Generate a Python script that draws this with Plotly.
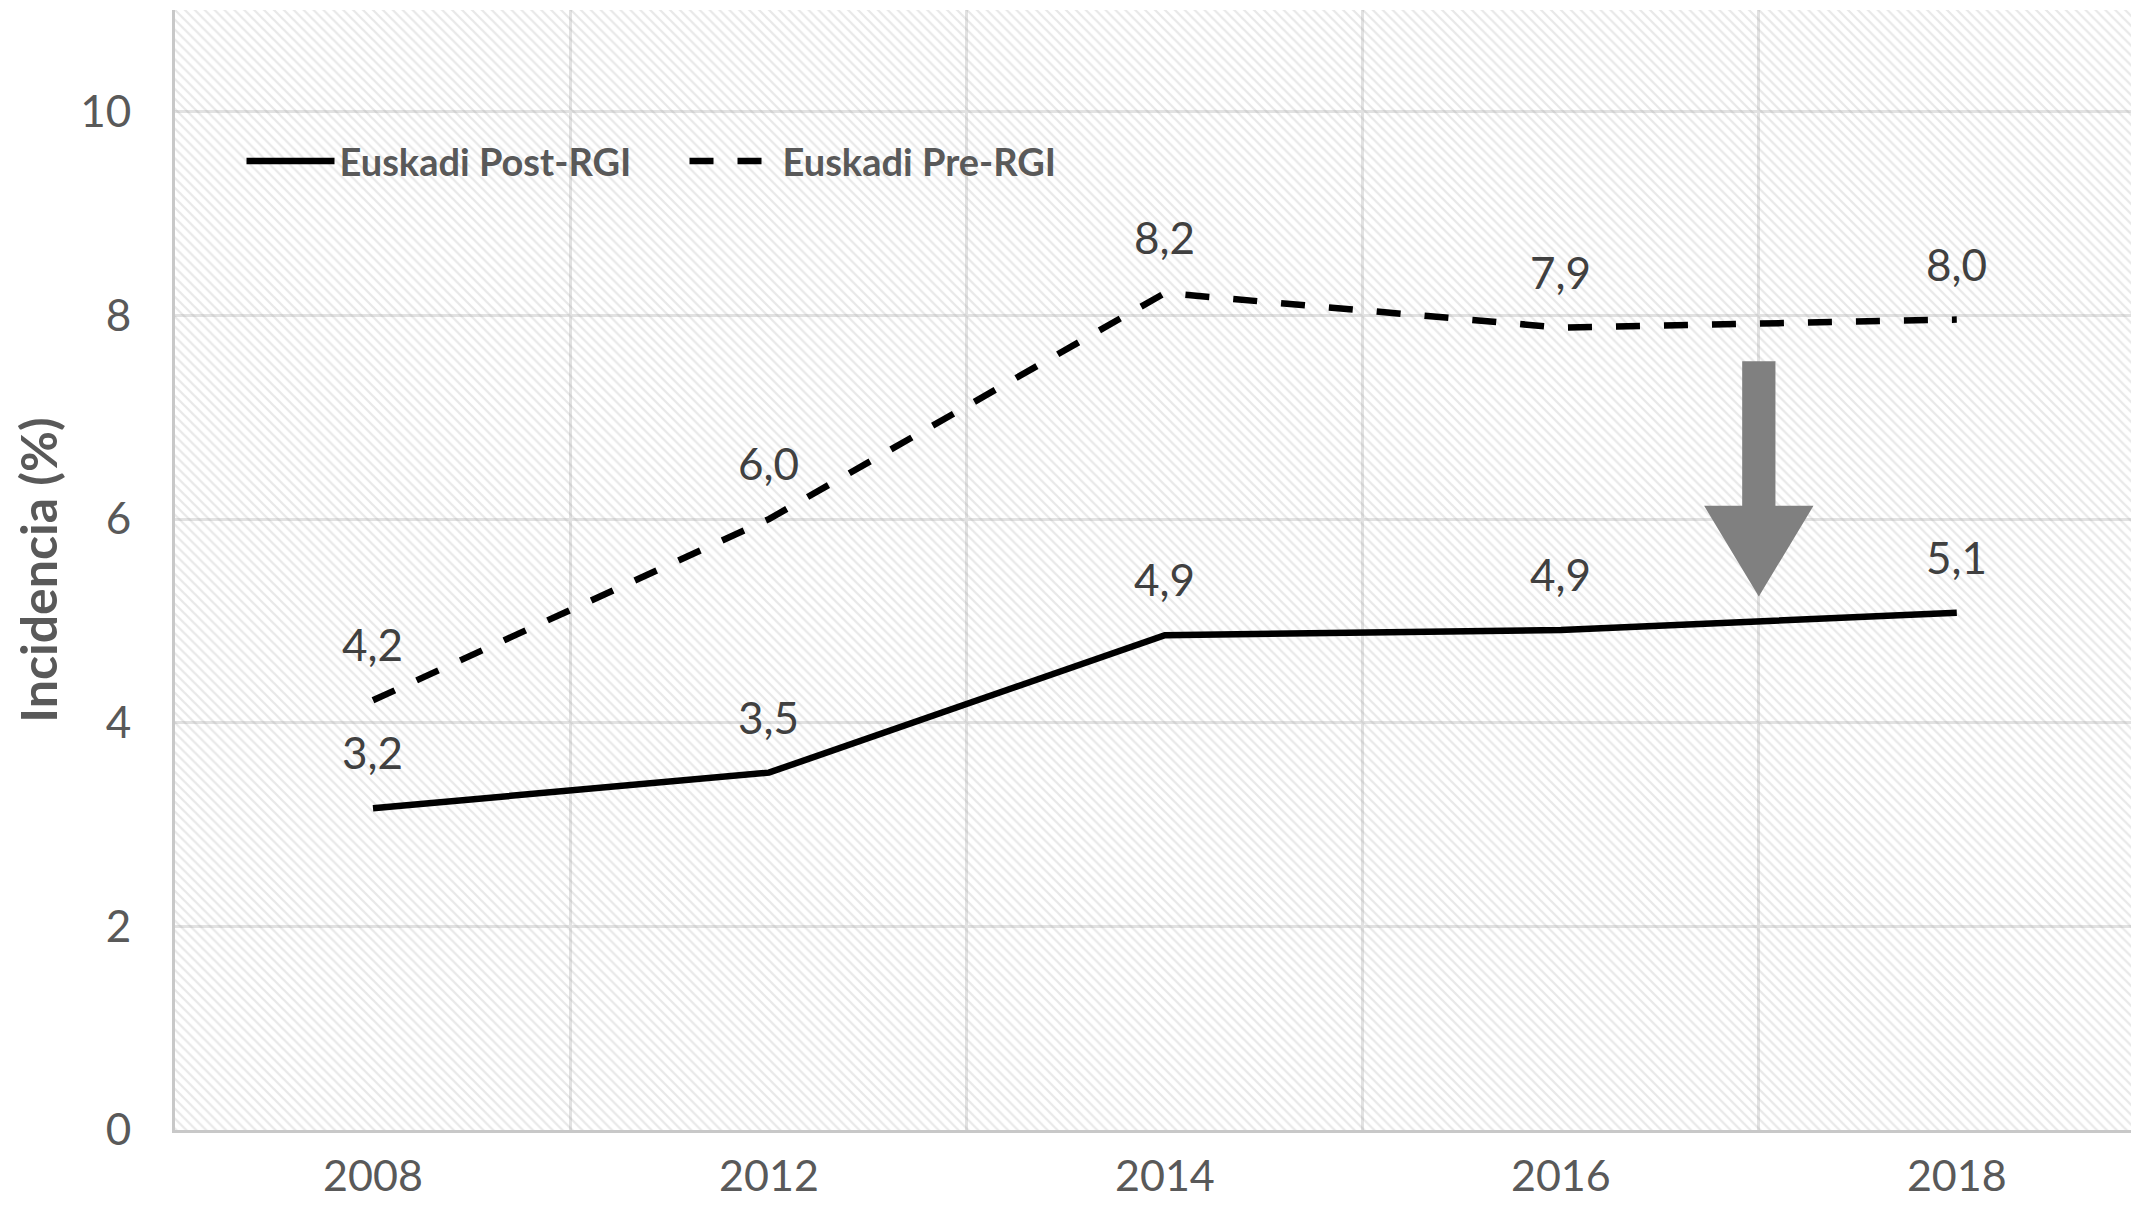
import plotly.graph_objects as go

# ---- data ----
years = ["2008", "2012", "2014", "2016", "2018"]
post_rgi = [3.16, 3.51, 4.86, 4.91, 5.08]
pre_rgi = [4.22, 6.00, 8.22, 7.88, 7.96]
series_names = ["Euskadi Post-RGI", "Euskadi Pre-RGI"]
y_ticks = [0, 2, 4, 6, 8, 10]
y_title = "Incidencia (%)"

# arrow annotation (category index / value units)
arrow_x = 3.5
arrow_top, arrow_neck, arrow_tip = 7.55, 6.13, 5.24
arrow_shaft_half, arrow_head_half = 0.042, 0.138

FONT = "Lato"
TXT = "#595959"

fig = go.Figure()

# hatched plot background on hidden base axes
fig.add_trace(go.Scatter(
    x=[0, 1, 1, 0, 0], y=[0, 0, 1, 1, 0], xaxis="x", yaxis="y",
    mode="lines", line=dict(width=0), fill="toself",
    fillcolor="rgba(0,0,0,0)",
    fillpattern=dict(shape="\\", fgcolor="rgba(150,150,150,0.45)",
                     bgcolor="rgba(255,255,255,0)", size=7, solidity=0.32),
    hoverinfo="skip", showlegend=False))

fig.add_trace(go.Scatter(
    x=years, y=post_rgi, name=series_names[0], xaxis="x2", yaxis="y2",
    mode="lines", line=dict(color="black", width=6.5)))
fig.add_trace(go.Scatter(
    x=years, y=pre_rgi, name=series_names[1], xaxis="x2", yaxis="y2",
    mode="lines", line=dict(color="black", width=6.5, dash="24px,24px")))

annotations = []
for vals in (post_rgi, pre_rgi):
    for i, yv in enumerate(vals):
        annotations.append(dict(
            x=i, y=yv, xref="x2", yref="y2", showarrow=False,
            text=f"{yv:.1f}".replace(".", ","), yshift=56,
            font=dict(family=FONT, size=44, color="#404040")))

arrow_path = (
    f"M {arrow_x-arrow_shaft_half},{arrow_top} L {arrow_x+arrow_shaft_half},{arrow_top} "
    f"L {arrow_x+arrow_shaft_half},{arrow_neck} L {arrow_x+arrow_head_half},{arrow_neck} "
    f"L {arrow_x},{arrow_tip} L {arrow_x-arrow_head_half},{arrow_neck} "
    f"L {arrow_x-arrow_shaft_half},{arrow_neck} Z")

fig.update_layout(
    width=2123, height=1197,
    margin=dict(l=167, r=0, t=2, b=75),
    paper_bgcolor="white", plot_bgcolor="white",
    font=dict(family=FONT, color=TXT),
    xaxis=dict(range=[0, 1], visible=False, fixedrange=True, automargin=False),
    yaxis=dict(range=[0, 1], visible=False, fixedrange=True, automargin=False),
    xaxis2=dict(overlaying="x", type="category", categoryorder="array",
                categoryarray=years, range=[-0.5, 4.44], tickson="boundaries",
                showgrid=True, gridcolor="#e2e2e2", gridwidth=3, automargin=False,
                showline=True, linecolor="#c8c8c8", linewidth=3, ticks="",
                ticklabelstandoff=6,
                tickfont=dict(family=FONT, size=43, color=TXT)),
    yaxis2=dict(overlaying="y", side="left", range=[0, 11], tickvals=y_ticks,
                showgrid=True, gridcolor="#e2e2e2", gridwidth=3, zeroline=False,
                showline=True, linecolor="#c8c8c8", linewidth=3, ticks="",
                ticklabelstandoff=32, automargin=False,
                tickfont=dict(family=FONT, size=44, color=TXT),
                title=dict(text=y_title, standoff=9,
                           font=dict(family=FONT, size=50, color=TXT, weight="bold"))),
    legend=dict(orientation="h", x=0.034, y=0.865, xanchor="left", yanchor="middle",
                bgcolor="rgba(0,0,0,0)", itemwidth=88,
                entrywidth=340, entrywidthmode="pixels",
                font=dict(family=FONT, size=38, color=TXT, weight="bold")),
    shapes=[dict(type="path", xref="x2", yref="y2", path=arrow_path,
                 fillcolor="#808080", line=dict(width=0), layer="above")],
    annotations=annotations,
)

fig.write_html("out.html")
